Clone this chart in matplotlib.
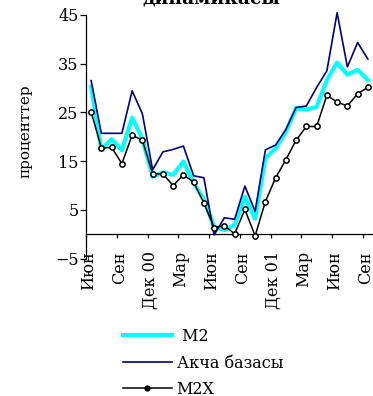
import matplotlib
matplotlib.use("Agg")
import matplotlib.pyplot as plt
from matplotlib.lines import Line2D
import numpy as np

plt.rcParams["font.family"] = ["DejaVu Serif"]

# monthly series, Jun 2000 .. Sep 2002, % year on year
months = ["Июн", "Июл", "Авг", "Сен", "Окт", "Ноя", "Дек 00",
          "Янв", "Фев", "Мар", "Апр", "Май", "Июн", "Июл", "Авг", "Сен", "Окт", "Ноя", "Дек 01",
          "Янв", "Фев", "Мар", "Апр", "Май", "Июн", "Июл", "Авг", "Сен"]
m2 = [30.3, 17.3, 19.5, 17.2, 23.9, 19.6, 11.8, 12.7, 12.2, 14.9, 10.5, 7.2, 1.5, 0.9,
      1.9, 7.7, 3.2, 15.6, 17.6, 21.0, 25.8, 25.6, 26.1, 31.6, 35.2, 32.7, 33.7, 31.6]
base = [31.5, 20.7, 20.7, 20.7, 29.4, 24.7, 13.2, 16.9, 17.4, 18.1, 12.0, 11.6, -0.1, 3.4,
        3.1, 9.9, 4.7, 17.3, 18.3, 21.5, 26.0, 26.3, 30.1, 33.5, 45.4, 34.3, 39.3, 35.9]
m2x = [25.1, 17.7, 17.8, 14.5, 20.3, 19.3, 12.4, 12.4, 10.0, 12.2, 10.7, 6.4, 1.4, 1.8,
       0.1, 5.1, -0.3, 6.7, 11.6, 15.3, 19.3, 22.1, 22.1, 28.5, 27.1, 26.3, 28.8, 30.1]
yticks = [-5, 5, 15, 25, 35, 45]

fig = plt.figure(figsize=(3.73, 3.96), dpi=100)
ax = fig.add_axes([0.2306, 0.3465, 0.7694, 0.6164])

# spine moves reset the tick objects, so do them first
ax.spines["top"].set_visible(False)
ax.spines["right"].set_visible(False)
ax.spines["bottom"].set_position(("data", 0))
for s in ("left", "bottom"):
    ax.spines[s].set_linewidth(0.9)

x = np.arange(len(months))
ax.plot(x, m2, color="#00FFFF", lw=3.0, clip_on=False, zorder=2)
ax.plot(x, base, color="#000080", lw=1.2, clip_on=False, zorder=3)
ax.plot(x, m2x, color="black", lw=1.1, marker="o", ms=3.8, mfc="white",
        mec="black", mew=1.1, clip_on=False, zorder=4)

ax.set_xlim(-0.5, len(months) - 0.5)
ax.set_ylim(-5, 45)
ax.set_yticks(yticks)
ax.set_yticklabels([str(v).replace("-", "\u2212") for v in yticks], fontsize=11.5)
ax.tick_params(axis="y", direction="out", length=4.3, width=0.9, pad=1)

# tick marks between categories, labels every quarter
ax.set_xticks(np.arange(0, len(months), 3) - 0.5)
ax.set_xticklabels([])
ax.tick_params(axis="x", which="major", direction="out", length=3, width=0.9)
ax.set_xticks(np.arange(0, len(months), 3) - 0.25, minor=True)
ax.set_xticklabels(months[::3], minor=True, fontsize=11.5)
ax.tick_params(axis="x", which="minor", length=0, pad=12, labelrotation=90)
for lbl in ax.get_xticklabels(minor=True):
    lbl.set_va("top")

fig.text(25 / 373, 1 - 131 / 396, "проценттер", rotation=90, fontsize=11,
         ha="center", va="center")
fig.text(211 / 373, 1 - 4 / 396, "динамикасы", fontsize=13.5, fontweight="bold",
         ha="center", va="baseline")

handles = [
    Line2D([], [], color="#00FFFF", lw=3.0),
    Line2D([], [], color="#000080", lw=1.2),
    Line2D([], [], color="black", lw=1.1, marker="o", ms=3.5, mfc="black", mec="black"),
]
fig.legend(handles, [" M2", "Акча базасы", "M2X"], loc="center left",
           bbox_to_anchor=(123 / 373, 1 - 363 / 396), frameon=False, fontsize=11.5,
           handlelength=3.05, handletextpad=0.3, labelspacing=0.6, borderpad=0,
           borderaxespad=0)

fig.savefig("out.png", dpi=100)
